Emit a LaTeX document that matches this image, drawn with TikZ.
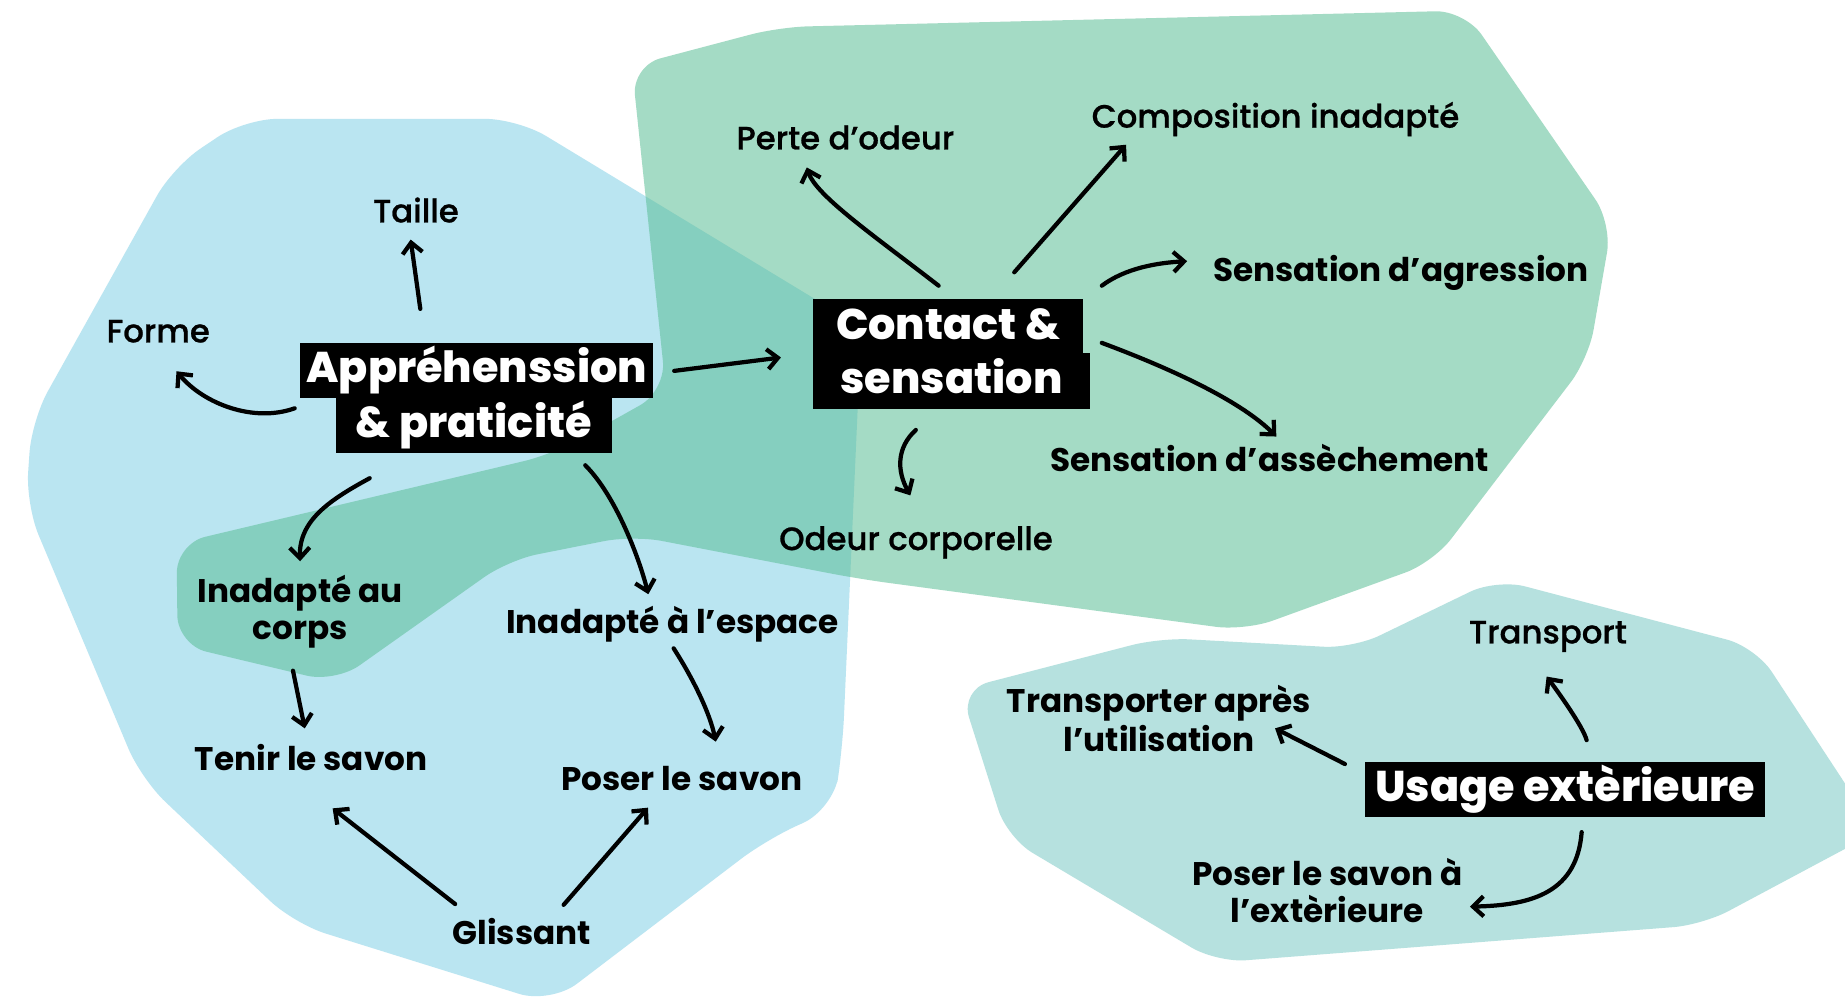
\documentclass[tikz,border=0pt]{standalone}
\usepackage{fontspec}
\usetikzlibrary{arrows.meta,calc}
\IfFontExistsTF{Poppins Medium}{\newfontfamily\fmed{Poppins Medium}[FakeBold=0.7]}{\newfontfamily\fmed{Poppins}[FakeBold=1.2]}
\IfFontExistsTF{Poppins Bold}{\newfontfamily\fbold{Poppins Bold}}{\newfontfamily\fbold{Poppins}[FakeBold=2]}
\IfFontExistsTF{Poppins ExtraBold}{\newfontfamily\fxbold{Poppins ExtraBold}}{\let\fxbold\fbold}
\definecolor{cblue}{RGB}{186,229,241}
\definecolor{cgreen}{RGB}{91,190,150}
\definecolor{cteal}{RGB}{182,225,223}
\begin{document}
\begin{tikzpicture}[x=1pt,y=-1pt,
 lab/.style={inner sep=0pt,anchor=base,font=\fmed\fontsize{27.5}{31}\selectfont},
 blab/.style={inner sep=0pt,anchor=base,font=\fbold\fontsize{27.8}{31}\selectfont},
 blab2/.style={inner sep=0pt,anchor=center,align=center,font=\fbold\fontsize{27.8}{31}\selectfont},
 head/.style={fill=black,text=white,anchor=north west,inner xsep=4pt,inner ysep=6pt,text height=28pt,text depth=7pt,font=\fxbold\fontsize{36.5}{40}\selectfont},
 arr/.style={line width=3.6pt,line cap=round,-{Straight Barb[length=9pt,width=17pt]}}]
\useasboundingbox (0,0) rectangle (1568,854);
\fill[white] (0,0) rectangle (1568,854);
\begin{scope}
\clip (0,0) rectangle (1568,854);
\fill[cblue, rounded corners=28pt] (208,101) -- (440,101) -- (732,278) -- (716,637) -- (708,688) -- (652,713) -- (468,853) -- (250,785) -- (120,662) -- (22,429) -- (27,357) -- (147,142) -- cycle;
\fill[cteal, rounded corners=25pt] (816,586) -- (986,542) -- (1150,551) -- (1272,492) -- (1492,550) -- (1595,707) -- (1447,786) -- (1034,818) -- (856,712) -- cycle;
\fill[cgreen, opacity=.55, rounded corners=25pt] (537,56) -- (662,23) -- (1245,9) -- (1370,190) -- (1350,305) -- (1218,478) -- (1058,536) -- (730,492) -- (538,455) -- (432,476) -- (285,580) -- (151,548) -- (150,462) -- (470,386) -- (566,332) -- cycle;
\end{scope}
% headings
\node[head, minimum width=300pt] (app1) at (255,291) {Appréhenssion};
\node[head, minimum width=235pt] (app2) at (285,338) {\& praticité};
\node[head, minimum width=229pt] (con1) at (691,254) {Contact \&};
\node[head, minimum width=235pt] (con2) at (691,300) {sensation};
\node[head, minimum width=340pt] (usage) at (1160,647) {Usage extèrieure};
% labels
\node[lab] (taille) at (353.5,189) {Taille};
\node[lab] (forme) at (134.5,291) {Forme};
\node[lab] (perte) at (718.5,127) {Perte d’odeur};
\node[lab] (compo) at (1084,108.5) {Composition inadapté};
\node[blab] (agress) at (1190.5,239) {Sensation d’agression};
\node[blab] (assech) at (1079,401) {Sensation d’assèchement};
\node[lab] (odeur) at (778.5,467.5) {Odeur corporelle};
\node[blab2] (corps) at (255,520) {Inadapté au\\corps};
\node[blab] (espace) at (571.5,538.4) {Inadapté à l’espace};
\node[blab] (tenir) at (264.5,655) {Tenir le savon};
\node[blab] (poser) at (579.5,672) {Poser le savon};
\node[blab] (gliss) at (443.5,803) {Glissant};
\node[lab] (transport) at (1315.5,546.8) {Transport};
\node[blab2] (transpap) at (985,610.7) {Transporter après\\[2pt]l’utilisation};
\node[blab2] (poserext) at (1128,756.8) {Poser le savon à\\[1pt]l’extèrieure};
% arrows
\draw[arr] ($(app1.north)+(-48,-28.5)$) -- ($(taille.base)+(-4.5,14.6)$);
\coordinate (f0) at ($(app1.south west)+(-4.6,8.6)$);
\coordinate (f1) at ($(forme.base)+(15.5,24.5)$);
\draw[arr] (f0) .. controls ($(f0)+(-35,12.5)$) and ($(f1)+(22.8,27.5)$) .. (f1);
\draw[arr] ($(app1.east)+(17.6,0.5)$) -- ($(con1.south west)+(-27.3,2.4)$);
\coordinate (c0) at ($(app2.south)+(-88.5,21)$);
\coordinate (c1) at ($(corps.center)+(0,-43)$);
\draw[arr] (c0) .. controls ($(c0)+(-33.4,18.2)$) and ($(c1)+(-1,-35)$) .. (c1);
\coordinate (e0) at ($(app2.south east)+(-23,10)$);
\coordinate (e1) at ($(espace.base)+(-20.5,-33.4)$);
\draw[arr] (e0) .. controls ($(e0)+(24.9,24.9)$) and ($(e1)+(-8.7,-34)$) .. (e1);
\draw[arr] ($(corps.center)+(-6,50)$) -- ($(tenir.base)+(-5.5,-36)$);
\coordinate (p0) at ($(espace.base)+(1,12.6)$);
\coordinate (p1) at ($(poser.base)+(28.8,-41.7)$);
\draw[arr] (p0) .. controls ($(p0)+(16.2,25.2)$) and ($(p1)+(-5,-24.5)$) .. (p1);
\draw[arr] ($(gliss.base)+(-56.7,-34.7)$) -- ($(tenir.base)+(18.2,32)$);
\draw[arr] ($(gliss.base)+(35.5,-34)$) -- ($(poser.base)+(-28.8,14.4)$);
\coordinate (o0) at ($(con1.north west)+(106.7,-11.2)$);
\coordinate (o1) at ($(perte.base)+(-32.8,15.3)$);
\draw[arr] (o0) .. controls ($(o0)+(-55.3,-42.8)$) and ($(o1)+(7.5,23.7)$) .. (o1);
\draw[arr] ($(con1.north west)+(171,-22.6)$) -- ($(compo.base)+(-127,14.5)$);
\coordinate (g0) at ($(con1.north east)+(16,-11.2)$);
\coordinate (g1) at ($(agress.base)+(-181.6,-17)$);
\draw[arr] (g0) .. controls ($(g0)+(20,-15)$) and ($(g1)+(-25,1.3)$) .. (g1);
\coordinate (s0) at ($(con2.north east)+(10,-8.6)$);
\coordinate (s1) at ($(assech.base)+(5.7,-30)$);
\draw[arr] (s0) .. controls ($(s0)+(65.8,24.5)$) and ($(s1)+(-28.4,-28.4)$) .. (s1);
\coordinate (d0) at ($(con2.south west)+(87.3,18)$);
\coordinate (d1) at ($(odeur.base)+(-4.8,-46.5)$);
\draw[arr] (d0) .. controls ($(d0)+(-16.3,15)$) and ($(d1)+(-11.7,-21)$) .. (d1);
\coordinate (t0) at ($(usage.north west)+(188.4,-18)$);
\coordinate (t1) at ($(transport.base)+(-1.1,28.2)$);
\draw[arr] (t0) .. controls ($(t0)+(-2.9,-11.6)$) and ($(t1)+(7.2,9.6)$) .. (t1);
\draw[arr] ($(usage.north west)+(-17,2.3)$) -- ($(transpap.center)+(98.6,8.3)$);
\coordinate (x0) at ($(usage.south west)+(184.2,12.8)$);
\coordinate (x1) at ($(poserext.center)+(121.2,13.7)$);
\draw[arr] (x0) .. controls ($(x0)+(-4,50)$) and ($(x1)+(55,-1.1)$) .. (x1);
\end{tikzpicture}
\end{document}
